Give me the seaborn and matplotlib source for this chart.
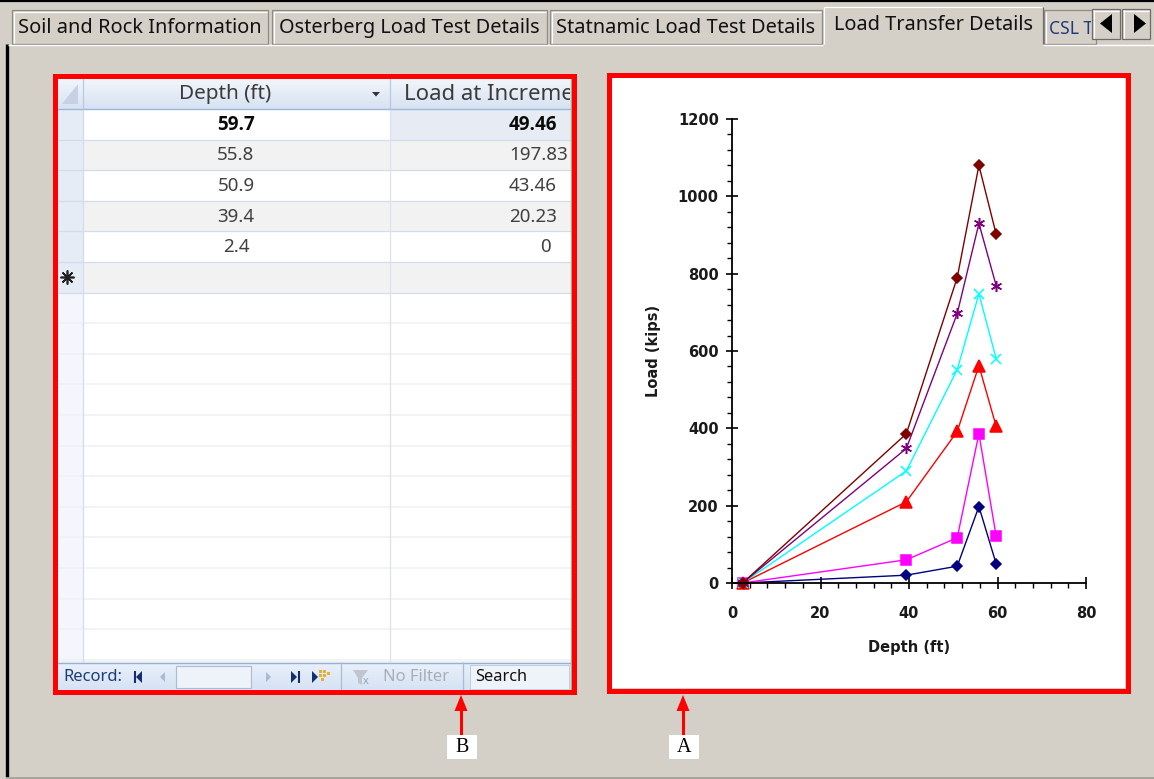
import numpy as np
import pandas as pd
import matplotlib
matplotlib.use("Agg")
import matplotlib.pyplot as plt
from matplotlib.patches import Rectangle, Polygon
from matplotlib.ticker import MultipleLocator
import seaborn as sns

# ---------------- data ----------------
depth = [2.4, 39.4, 50.9, 55.8, 59.7]
series_names = ["Increment 1", "Increment 2", "Increment 3",
                "Increment 4", "Increment 5", "Increment 6"]
load_inc1 = [0, 20.23, 43.46, 197.83, 49.46]
load_inc2 = [0, 60, 117, 386, 121]
load_inc3 = [0, 210, 392, 562, 405]
load_inc4 = [0, 290, 552, 748, 580]
load_inc5 = [0, 348, 697, 930, 769]
load_inc6 = [0, 386, 790, 1080, 902]
series_colors = ["#000080", "#FF00FF", "#FF0000", "#00FFFF", "#800080", "#800000"]
series_markers = ["D", "s", "^", "x", (6, 2, 0), "D"]
series_msize = [5.5, 7, 8, 7, 8, 5.5]
x_ticks = [0, 20, 40, 60, 80]
y_ticks = [0, 200, 400, 600, 800, 1000, 1200]
tab_labels = ["Soil and Rock Information", "Osterberg Load Test Details",
              "Statnamic Load Test Details", "Load Transfer Details", "CSL Tests"]
table_columns = ["Depth (ft)", "Load at Increment 1 (kips)"]

loads = [load_inc1, load_inc2, load_inc3, load_inc4, load_inc5, load_inc6]
df = pd.DataFrame({
    "Depth (ft)": np.tile(depth, len(series_names)),
    "Load (kips)": np.concatenate(loads),
    "Series": np.repeat(series_names, len(depth)),
})

# ---------------- figure / UI layer ----------------
W, H = 1154, 779
BG = "#D4D0C8"
UI_FONT = ["Noto Sans", "DejaVu Sans"]
BOLD_FONT = ["Open Sans", "Noto Sans", "DejaVu Sans"]
CHART_FONT = ["DejaVu Sans"]
fig = plt.figure(figsize=(W / 100, H / 100), dpi=100, facecolor=BG)
ui = fig.add_axes([0, 0, 1, 1])
ui.set_xlim(0, W)
ui.set_ylim(H, 0)
ui.axis("off")
renderer = fig.canvas.get_renderer()


def rect(x0, y0, x1, y1, fc, ec="none", lw=0.0, z=1):
    p = Rectangle((x0, y0), x1 - x0, y1 - y0, facecolor=fc, edgecolor=ec,
                  linewidth=lw, zorder=z)
    ui.add_patch(p)
    return p


def line(xs, ys, color, lw=0.72, z=2):
    ui.plot(xs, ys, color=color, lw=lw, zorder=z, solid_capstyle="butt")


def clip_to(t, box):
    cp = Rectangle((box[0], box[1]), box[2] - box[0], box[3] - box[1],
                   transform=ui.transData, facecolor="none")
    t.set_clip_on(True)
    t.set_clip_path(cp)


def fit_text(x, y, s, width, base=12, clip=None, **kw):
    kw.setdefault("family", UI_FONT)
    t = ui.text(x, y, s, fontsize=base, zorder=kw.pop("zorder", 5), **kw)
    bb = t.get_window_extent(renderer)
    t.set_fontsize(base * width / bb.width)
    if clip is not None:
        clip_to(t, clip)
    return t


# outer frame
line([0, W], [1, 1], "black", lw=1.6, z=3)
line([6.5, 6.5], [44, 777], "black", lw=2.4, z=3)
line([6, W], [777.5, 777.5], "#A8A49C", lw=1.4, z=3)
line([8, 823], [44.5, 44.5], "white", lw=1.0, z=3)
line([1043, W], [44.5, 44.5], "white", lw=1.0, z=3)

# tabs
tab_boxes = [(12, 268), (272, 547), (550, 822)]
tab_widths = [242, 259, 258]
for (x0, x1), lab, tw in zip(tab_boxes, tab_labels[:3], tab_widths):
    rect(x0, 10, x1, 44, BG, ec="#8E8A84", lw=0.9, z=2)
    line([x0 + 1.5, x0 + 1.5], [11.5, 43], "white", lw=0.9, z=3)
    line([x0 + 1.5, x1 - 1], [11.5, 11.5], "white", lw=0.9, z=3)
    fit_text((x0 + x1) / 2, 28, lab, tw, ha="center", va="center", color="#111111")
# active tab
line([823.5, 823.5], [7, 44], "white", lw=0.9, z=3)
line([823.5, 1042], [7, 7], "white", lw=0.9, z=3)
line([1042.5, 1042.5], [7, 44], "#6F6B66", lw=0.9, z=3)
fit_text(933, 25, tab_labels[3], 198, ha="center", va="center", color="#111111")
# partially hidden tab
rect(1044, 10, 1096, 44, BG, ec="#8E8A84", lw=0.9, z=2)
line([1045.5, 1045.5], [11.5, 43], "white", lw=0.9, z=3)
t_csl = ui.text(1049, 29, tab_labels[4], fontsize=12.6, family=UI_FONT, color="#1F3A7A",
                ha="left", va="center", zorder=5)
clip_to(t_csl, (1046, 10, 1091, 44))
# scroll buttons
for x0, pts in [(1092, [(1112, 14), (1112, 33), (1100, 23.5)]),
                (1122, [(1134, 14), (1134, 33), (1146, 23.5)])]:
    rect(x0, 9, x0 + 28, 39, BG, ec="#6F6B66", lw=0.9, z=6)
    line([x0 + 1.5, x0 + 1.5], [10, 38], "white", lw=0.9, z=7)
    line([x0 + 1, x0 + 27], [10.5, 10.5], "white", lw=0.9, z=7)
    ui.add_patch(Polygon(pts, closed=True, fc="black", ec="none", zorder=8))

# ---------------- datasheet (panel B) ----------------
TX0, TX1, TY0, TY1 = 57, 571, 78, 662
COL1 = 83
COL2 = 390
rect(TX0, TY0, TX1, TY1, "white", z=1)
hdr = np.linspace(0, 1, 32).reshape(-1, 1)
ui.imshow(hdr, extent=(TX0, TX1, 109, TY0), aspect="auto", zorder=1.5,
          cmap=matplotlib.colors.LinearSegmentedColormap.from_list(
              "hdr", ["#F3F6FB", "#D7E2F2"]))
line([TX0, TX1], [109, 109], "#9EB6D8", lw=1.0, z=3)
line([COL1, COL1], [TY0, 109], "#B9C9E2", lw=0.9, z=3)
line([COL2, COL2], [TY0, 109], "#B9C9E2", lw=0.9, z=3)
ui.add_patch(Polygon([(78, 84), (78, 104), (62, 104)], closed=True,
                     fc="#C6D2E3", ec="none", zorder=3))
ui.add_patch(Polygon([(372, 92), (380, 92), (376, 96.5)], closed=True,
                     fc="#333333", ec="none", zorder=3))
fit_text(225, 94, table_columns[0], 92, ha="center", va="center", color="#3B3B3B")
fit_text(404, 94, table_columns[1], 270, ha="left", va="center", color="#3B3B3B",
         clip=(391, TY0, TX1 - 1, 109))

ROW_H = 30.6
rows_depth = [f"{d:g}" for d in depth[::-1]]
rows_load = [f"{v:g}" for v in load_inc1[::-1]]
n_rows = int((TY1 - 109) // ROW_H) + 1
for i in range(n_rows):
    y0 = 109 + i * ROW_H
    y1 = min(y0 + ROW_H, TY1)
    if i < 6:
        fc = "white" if i % 2 == 0 else "#F2F2F2"
        rect(COL1, y0, TX1, y1, fc, z=1.2)
        rect(TX0, y0, COL1, y1, "#E6ECF6", z=1.2)
        line([TX0, TX1], [y1, y1], "#D3DCEA", lw=0.9, z=2)
    else:
        rect(TX0, y0, COL1, y1, "#F4F6FB", z=1.2)
        line([TX0, TX1], [y1, y1], "#F0F1F4", lw=1.2, z=2)
line([COL1, COL1], [109, TY1], "#D3DCEA", lw=0.9, z=2.5)
line([COL2, COL2], [109, TY1], "#DDE3EC", lw=0.9, z=2.5)
rect(COL2 + 0.5, 109.5, TX1, 109 + ROW_H, "#E6EBF4", z=1.3)
line([TX1 - 0.5, TX1 - 0.5], [TY0, 690], "#8FB48F", lw=1.0, z=3)

for i, (dlab, llab) in enumerate(zip(rows_depth, rows_load)):
    yc = 109 + ROW_H * (i + 0.5) + 0.5
    sel = i == 0
    col = "#0A0A0A" if sel else "#404040"
    wt = "bold" if sel else "normal"
    fam = BOLD_FONT if sel else UI_FONT
    ui.text(236, yc, dlab, fontsize=13.5, family=fam, ha="center", va="center",
            color=col, weight=wt, zorder=5)
    if llab == "0":
        t = ui.text(545, yc, llab, fontsize=13.5, family=fam, ha="center",
                    va="center", color=col, weight=wt, zorder=5)
    else:
        t = ui.text(509, yc, llab, fontsize=13.5, family=fam, ha="left",
                    va="center", color=col, weight=wt, zorder=5)
    clip_to(t, (COL2, 109, TX1 - 1, 300))
# new-record asterisk
ui.plot([67], [277], marker=(8, 2, 0), ms=10, mew=1.2, color="#202020", zorder=6)

# navigation bar
NB0, NB1 = 662, 690
nav = np.linspace(0, 1, 28).reshape(-1, 1)
ui.imshow(nav, extent=(TX0, TX1, NB1, NB0), aspect="auto", zorder=1.5,
          cmap=matplotlib.colors.LinearSegmentedColormap.from_list(
              "nav", ["#E9F0FA", "#D6E3F4"]))
line([TX0, TX1], [NB0 + 0.5, NB0 + 0.5], "#98B1D6", lw=1.0, z=3)
fit_text(63, 677, "Record:", 59, ha="left", va="center", color="#1E3C74")
NAVY = "#142F70"
GRAYB = "#A9BBD5"
line([134.5, 134.5], [671, 683], NAVY, lw=1.5, z=5)
ui.add_patch(Polygon([(142, 671), (142, 683), (136, 677)], fc=NAVY, ec="none", zorder=5))
ui.add_patch(Polygon([(165, 672), (165, 682), (160, 677)], fc=GRAYB, ec="none", zorder=5))
rect(176, 666, 251, 688, "#EEF3FA", ec="#A9BBD5", lw=0.8, z=4)
ui.add_patch(Polygon([(266, 672), (266, 682), (271, 677)], fc=GRAYB, ec="none", zorder=5))
ui.add_patch(Polygon([(291, 671), (291, 683), (297, 677)], fc=NAVY, ec="none", zorder=5))
line([298.5, 298.5], [671, 683], NAVY, lw=1.5, z=5)
ui.add_patch(Polygon([(312, 671), (312, 683), (318, 677)], fc=NAVY, ec="none", zorder=5))
for dx, dy in [(0, 0), (4, 0), (0, 4), (4, 4), (8, 2), (2, 8)]:
    rect(319 + dx, 670 + dy, 322 + dx, 673 + dy, "#E8B030", z=5)
line([341, 341], [NB0, NB1], "#A9BBD5", lw=0.9, z=4)
ui.add_patch(Polygon([(353, 670), (368, 670), (362, 678), (362, 685), (358, 683), (358, 678)],
                     fc="#BFC6D0", ec="none", zorder=5))
ui.text(366, 682, "x", fontsize=8, family=UI_FONT, color="#9AA4B2", ha="center",
        va="center", zorder=5, weight="bold")
fit_text(383, 677, "No Filter", 66, ha="left", va="center", color="#A8AEB8")
line([463, 463], [NB0, NB1], "#A9BBD5", lw=0.9, z=4)
rect(470, 665, 569, 689, "#EEF3FA", ec="#C0CDE0", lw=0.7, z=4)
fit_text(475, 677, "Search", 52, ha="left", va="center", color="#111111")

# red annotation frames
RED = "#FF0000"
rect(55, 76, 574, 692, "none", ec=RED, lw=3.6, z=9)
rect(612, 78, 1125, 688, "white", z=0.5)
rect(609, 75, 1128, 691, "none", ec=RED, lw=3.6, z=9)

# arrows with letter boxes
for xa, letter in [(461, "B"), (683, "A")]:
    line([xa, xa], [735, 708], RED, lw=2.2, z=9)
    ui.add_patch(Polygon([(xa - 6.5, 711), (xa + 6.5, 711), (xa, 695)],
                         fc=RED, ec="none", zorder=9))
    rect(xa - 14, 735, xa + 16, 759, "white", z=9)
    ui.text(xa + 1, 748, letter, fontsize=14.5, family=["Liberation Serif", "DejaVu Serif"],
            ha="center", va="center", color="black", zorder=10)

# ---------------- chart (panel A) ----------------
ax = fig.add_axes([732 / W, 1 - 583 / H, 354 / W, 464 / H], zorder=3)
ax.patch.set_alpha(0)
palette = dict(zip(series_names, series_colors))
sns.lineplot(data=df, x="Depth (ft)", y="Load (kips)", hue="Series",
             hue_order=series_names, palette=palette, estimator=None,
             sort=False, legend=False, linewidth=1.0, ax=ax)
for ln, c, mk, ms in zip(ax.lines, series_colors, series_markers, series_msize):
    ln.set_marker(mk)
    ln.set_markeredgecolor(c)
    ln.set_markerfacecolor(c)
    ln.set_markersize(ms)
    ln.set_markeredgewidth(1.1)
    ln.set_clip_on(False)

ax.set_xlim(x_ticks[0], x_ticks[-1])
ax.set_ylim(y_ticks[0], y_ticks[-1])
ax.set_xticks(x_ticks)
ax.set_yticks(y_ticks)
ax.xaxis.set_minor_locator(MultipleLocator(4))
ax.yaxis.set_minor_locator(MultipleLocator(40))
for s in ["top", "right"]:
    ax.spines[s].set_visible(False)
for s in ["left", "bottom"]:
    ax.spines[s].set_linewidth(1.3)
    ax.spines[s].set_color("black")
ax.grid(False)
ax.tick_params(which="major", direction="inout", length=9, width=1.2, colors="black",
               labelsize=10.5)
ax.tick_params(which="minor", direction="out", length=3.5, width=1.0, colors="black")
ax.tick_params(axis="y", which="major", pad=5)
ax.tick_params(axis="x", which="major", pad=12)
for lab in ax.get_xticklabels() + ax.get_yticklabels():
    lab.set_fontfamily(CHART_FONT)
    lab.set_fontweight("bold")
    lab.set_color("#1A1A1A")
ax.set_xlabel("Depth (ft)", fontsize=10.5, family=CHART_FONT, weight="bold",
              color="#1A1A1A", labelpad=14)
ax.set_ylabel("Load (kips)", fontsize=10.5, family=CHART_FONT, weight="bold",
              color="#1A1A1A", labelpad=12)

fig.savefig("out.png", dpi=100, facecolor=BG)
